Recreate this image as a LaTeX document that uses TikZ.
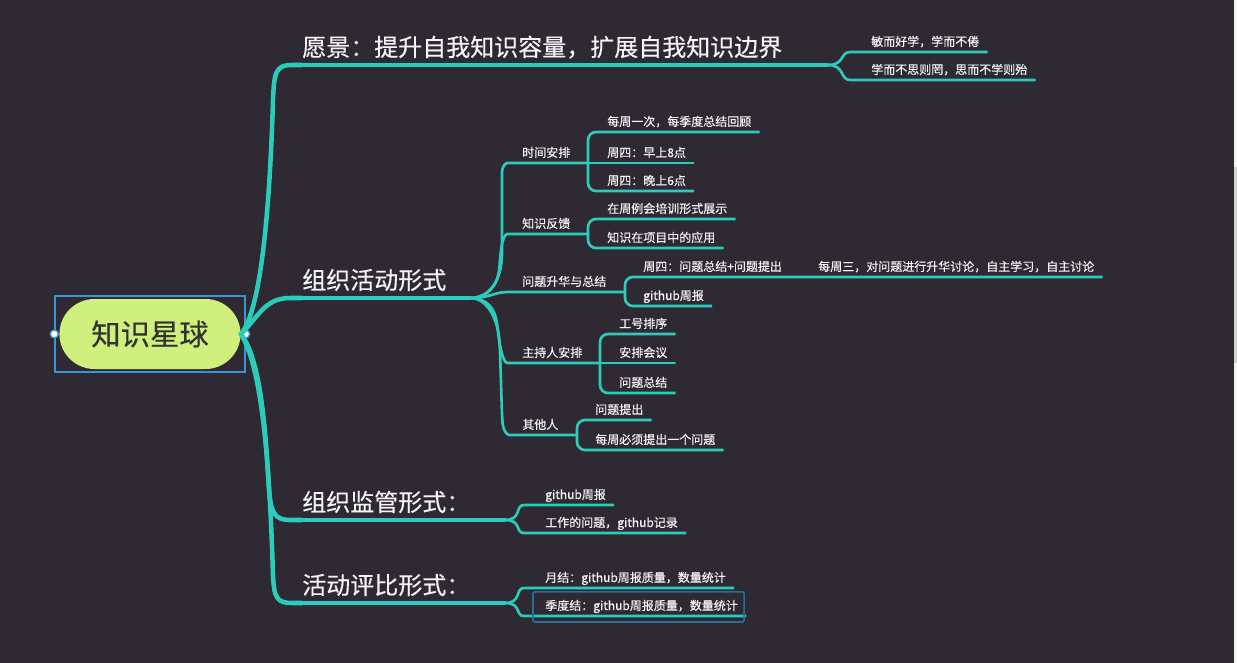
\documentclass[tikz,border=0pt]{standalone}
\usepackage{fontspec}
\setmainfont{Noto Sans CJK SC}[FakeBold=0.35]
\usetikzlibrary{positioning,fit,shapes.misc}
\definecolor{bgdark}{RGB}{46,41,50}
\definecolor{linecol}{RGB}{44,204,186}
\definecolor{rootfill}{RGB}{208,240,125}
\definecolor{rootdark}{RGB}{50,50,50}
\definecolor{selblue}{RGB}{56,150,214}
\definecolor{selblue2}{RGB}{40,110,155}
\definecolor{fgwhite}{RGB}{245,245,245}

\begin{document}
\begin{tikzpicture}[
    x=0.75pt, y=-0.75pt,
    every node/.style={text=fgwhite},
    rootpill/.style={rounded rectangle,fill=rootfill,text=rootdark,minimum width=142.5pt,minimum height=52.5pt,font=\fontsize{22}{24}\selectfont},
    big/.style={font=\fontsize{18}{20}\selectfont,anchor=south west,inner xsep=0pt,inner ysep=6.5pt,text depth=0pt},
    small/.style={font=\fontsize{9}{10}\selectfont,anchor=south west,inner xsep=0pt,inner ysep=4.3pt,text depth=0pt},
    selbox/.style={draw=selblue,line width=1.3pt},
    handle/.style={circle,fill=white,draw=selblue,line width=1pt,inner sep=0pt,minimum size=6pt},
    trunk/.style={draw=linecol,line width=3.4pt,line cap=round},
    main/.style={draw=linecol,line width=2.3pt,line cap=round},
    sub/.style={draw=linecol,line width=2pt,line cap=round,rounded corners=6pt}
  ]
    % Canvas
    \fill[bgdark] (0,0) rectangle (1237,663);
    \useasboundingbox (0,0) rectangle (1237,663);
    \fill[gray!8] (1234,0) rectangle (1237,663);
    \fill[gray!35] (1234,167) rectangle (1237,363);

    % Root node
    \node[rootpill] (root) at (150,334) {知识星球};
    \node[selbox,fit=(root),inner xsep=3pt,inner ysep=2pt] (rootsel) {};
    \node[handle] (hl) at (rootsel.west) {};
    \node[handle] (hr) at (rootsel.east) {};

    % Main topics
    \node[big] (vision) at (302,65) {愿景：提升自我知识容量，扩展自我知识边界};
    \node[big] (act) at (302,298) {组织活动形式};
    \node[big] (super) at (302,520) {组织监管形式：};
    \node[big] (eval) at (302,603) {活动评比形式：};

    % Fork points
    \coordinate (f-vis) at (828,65);
    \coordinate (f-act) at (470,298);
    \coordinate (f-sup) at (505,520);
    \coordinate (f-eval) at (505,603);

    % Trunks from the root
    \draw[trunk] (root.east) .. controls (262,310) and (270,200) .. (273,100) .. controls (274,72) and (276,65) .. (292,65) -- (vision.south west);
    \draw[trunk] (root.east) .. controls (258,318) and (264,298) .. (290,298) -- (act.south west);
    \draw[trunk] (root.east) .. controls (262,360) and (266,440) .. (269,490) .. controls (271,512) and (274,520) .. (290,520) -- (super.south west);
    \draw[trunk] (root.east) .. controls (264,370) and (270,480) .. (273,575) .. controls (274,598) and (277,603) .. (292,603) -- (eval.south west);
    \draw[main] (vision.south west) -- (f-vis);
    \draw[main] (act.south west) -- (f-act);
    \draw[main] (super.south west) -- (f-sup);
    \draw[main] (eval.south west) -- (f-eval);

    % Vision
    \node[small] (v-keen) at (871,52) {敏而好学，学而不倦};
    \node[small] (v-think) at (871,80) {学而不思则罔，思而不学则殆};
    \draw[sub] (f-vis) .. controls (845,65) and (840,52) .. (858,52) -- (v-keen.south east) -- ++(5,0);
    \draw[sub] (f-vis) .. controls (845,65) and (840,80) .. (858,80) -- (v-think.south east) -- ++(5,0);

    % Activity form, level 2
    \node[small] (time) at (522,163) {时间安排};
    \node[small] (feed) at (522,234) {知识反馈};
    \node[small] (sum) at (522,292) {问题升华与总结};
    \node[small] (host) at (522,363) {主持人安排};
    \node[small] (others) at (522,435) {其他人};

    \coordinate (f-time) at (588,163);
    \coordinate (f-feed) at (588,234);
    \coordinate (f-sum) at (625,292);
    \coordinate (f-host) at (600,363);
    \coordinate (f-oth) at (577,435);

    \draw[sub] (f-act) .. controls (490,298) and (502,280) .. (502,245) -- (502,180) .. controls (502,168) and (505,163) .. (515,163) -- (time.south east) -- (f-time);
    \draw[sub] (f-act) .. controls (488,298) and (498,285) .. (500,260) .. controls (502,240) and (505,234) .. (515,234) -- (feed.south east) -- (f-feed);
    \draw[sub] (f-act) .. controls (490,298) and (495,292) .. (515,292) -- (sum.south east) -- (f-sum);
    \draw[sub] (f-act) .. controls (488,298) and (495,310) .. (498,330) .. controls (501,355) and (505,363) .. (515,363) -- (host.south east) -- (f-host);
    \draw[sub] (f-act) .. controls (488,298) and (498,320) .. (500,350) -- (502,415) .. controls (503,430) and (507,435) .. (517,435) -- (others.south east) -- (f-oth);

    % Time schedule
    \node[small] (t-week) at (607,132) {每周一次，每季度总结回顾};
    \node[small] (t-am) at (607,163) {周四：早上8点};
    \node[small] (t-pm) at (607,191) {周四：晚上6点};
    \draw[sub] (f-time) |- (t-week.south west) -- (t-week.south east) -- ++(5,0);
    \draw[sub] (f-time) -- (t-am.south east) -- ++(5,0);
    \draw[sub] (f-time) |- (t-pm.south west) -- (t-pm.south east) -- ++(5,0);

    % Feedback
    \node[small] (k-show) at (607,219) {在周例会培训形式展示};
    \node[small] (k-apply) at (607,248) {知识在项目中的应用};
    \draw[sub] (f-feed) |- (k-show.south west) -- (k-show.south east) -- ++(5,0);
    \draw[sub] (f-feed) |- (k-apply.south west) -- (k-apply.south east) -- ++(5,0);

    % Summary
    \node[small] (s-thu) at (643,277) {周四：问题总结+问题提出};
    \node[small] (s-wed) at (818,277) {每周三，对问题进行升华讨论，自主学习，自主讨论};
    \node[small] (s-git) at (643,306) {github周报};
    \draw[sub] (f-sum) |- (s-thu.south west) -- (s-thu.south east) -- (s-wed.south west) -- (s-wed.south east) -- ++(5,0);
    \draw[sub] (f-sum) |- (s-git.south west) -- (s-git.south east) -- ++(5,0);

    % Host
    \node[small] (h-num) at (619,334) {工号排序};
    \node[small] (h-meet) at (619,363) {安排会议};
    \node[small] (h-sum) at (619,393) {问题总结};
    \draw[sub] (f-host) |- (h-num.south west) -- (h-num.south east) -- ++(5,0);
    \draw[sub] (f-host) -- (h-meet.south east) -- ++(5,0);
    \draw[sub] (f-host) |- (h-sum.south west) -- (h-sum.south east) -- ++(5,0);

    % Others
    \node[small] (o-ask) at (595,420) {问题提出};
    \node[small] (o-week) at (595,450) {每周必须提出一个问题};
    \draw[sub] (f-oth) |- (o-ask.south west) -- (o-ask.south east) -- ++(5,0);
    \draw[sub] (f-oth) |- (o-week.south west) -- (o-week.south east) -- ++(5,0);

    % Supervision
    \node[small] (p-git) at (545,505) {github周报};
    \node[small] (p-work) at (545,533) {工作的问题，github记录};
    \draw[sub] (f-sup) .. controls (522,520) and (515,505) .. (532,505) -- (p-git.south east) -- ++(5,0);
    \draw[sub] (f-sup) .. controls (522,520) and (515,533) .. (532,533) -- (p-work.south east) -- ++(5,0);

    % Evaluation
    \node[small] (q-month) at (545,588) {月结：github周报质量，数量统计};
    \node[small] (q-quarter) at (545,616) {季度结：github周报质量，数量统计};
    \draw[sub] (f-eval) .. controls (522,603) and (515,588) .. (532,588) -- (q-month.south east) -- ++(5,0);
    \draw[sub] (f-eval) .. controls (522,603) and (515,616) .. (532,616) -- (q-quarter.south east) -- ++(5,0);
    \draw[draw=selblue2,line width=1.3pt,rounded corners=1.5pt] ([shift={(-12,-2)}]q-quarter.north west) rectangle ([shift={(6,6)}]q-quarter.south east);
  \end{tikzpicture}
\end{document}
